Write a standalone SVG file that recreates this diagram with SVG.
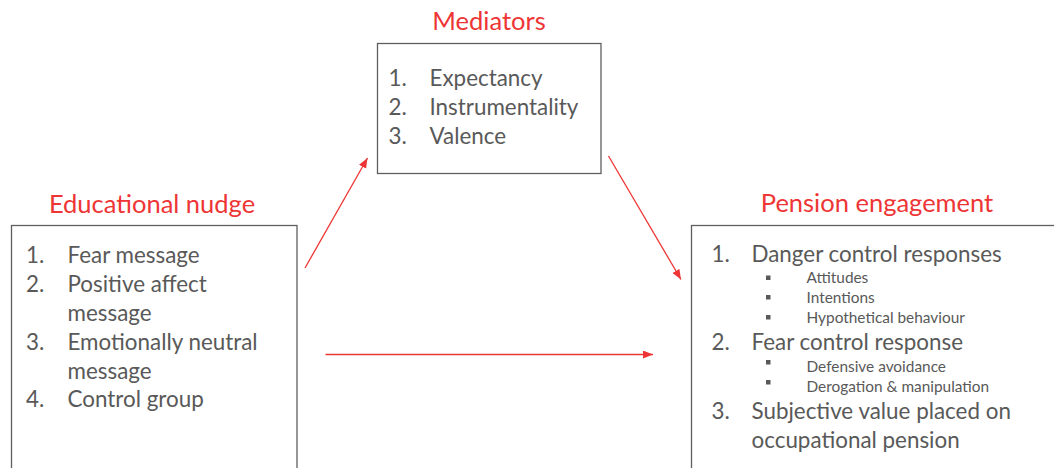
<svg xmlns="http://www.w3.org/2000/svg" width="1054" height="468" viewBox="0 0 1054 468">
  <style>
    .box { fill: #ffffff; stroke: #5f5f5f; stroke-width: 1.3; }
    .title { font-family: Lato, "Liberation Sans", sans-serif; font-size: 25.5px; fill: #ee3535; text-anchor: middle; }
    .item { font-family: Lato, "Liberation Sans", sans-serif; font-size: 22.4px; fill: #595959; }
    .sub { font-family: Lato, "Liberation Sans", sans-serif; font-size: 15.4px; fill: #595959; }
    .dot { fill: #595959; }
    .link { stroke: #ee3535; stroke-width: 1.3; fill: none; marker-end: url(#head); }
  </style>
  <defs>
    <marker id="head" markerUnits="userSpaceOnUse" markerWidth="11" markerHeight="9" refX="10" refY="4" orient="auto">
      <path d="M0,0 L10,4 L0,8 z" fill="#ee3535"/>
    </marker>
  </defs>
  <rect width="1054" height="468" fill="#ffffff"/>

  <!-- Educational nudge -->
  <g id="node-nudge">
    <text class="title" x="152" y="212.5">Educational nudge</text>
    <rect class="box" x="11.5" y="225.5" width="285.5" height="260"/>
    <text class="item" x="26" y="263">1.</text>
    <text class="item" x="67.5" y="263">Fear message</text>
    <text class="item" x="26" y="292">2.</text>
    <text class="item" x="67.5" y="292">Positive affect</text>
    <text class="item" x="67.5" y="321">message</text>
    <text class="item" x="26" y="350">3.</text>
    <text class="item" x="67.5" y="350">Emotionally neutral</text>
    <text class="item" x="67.5" y="378.5">message</text>
    <text class="item" x="26" y="407">4.</text>
    <text class="item" x="67.5" y="407">Control group</text>
  </g>

  <!-- Mediators -->
  <g id="node-mediators">
    <text class="title" x="489" y="30">Mediators</text>
    <rect class="box" x="377.5" y="43.5" width="223.5" height="130"/>
    <text class="item" x="388.5" y="85.5">1.</text>
    <text class="item" x="429.5" y="85.5">Expectancy</text>
    <text class="item" x="388.5" y="114.5">2.</text>
    <text class="item" x="429.5" y="114.5">Instrumentality</text>
    <text class="item" x="388.5" y="143.5">3.</text>
    <text class="item" x="429.5" y="143.5">Valence</text>
  </g>

  <!-- Pension engagement -->
  <g id="node-engagement">
    <text class="title" x="877" y="211.5">Pension engagement</text>
    <rect class="box" x="691.5" y="225.5" width="380" height="260"/>
    <text class="item" x="711.5" y="261.5">1.</text>
    <text class="item" x="751.5" y="261.5">Danger control responses</text>
    <rect class="dot" x="766" y="275.5" width="4.5" height="4.5"/>
    <text class="sub" x="806.5" y="282.7">Attitudes</text>
    <rect class="dot" x="766" y="295" width="4.5" height="4.5"/>
    <text class="sub" x="806.5" y="302.7">Intentions</text>
    <rect class="dot" x="766" y="315" width="4.5" height="4.5"/>
    <text class="sub" x="806.5" y="323.3">Hypothetical behaviour</text>
    <text class="item" x="711.5" y="350">2.</text>
    <text class="item" x="751.5" y="350">Fear control response</text>
    <rect class="dot" x="766" y="360" width="4.5" height="4.5"/>
    <text class="sub" x="806.5" y="371.7">Defensive avoidance</text>
    <rect class="dot" x="766" y="380" width="4.5" height="4.5"/>
    <text class="sub" x="806.5" y="392">Derogation &amp; manipulation</text>
    <text class="item" x="711.5" y="419.3">3.</text>
    <text class="item" x="751.5" y="419.3">Subjective value placed on</text>
    <text class="item" x="751.5" y="448.3">occupational pension</text>
  </g>

  <!-- Connectors -->
  <g id="connectors">
    <line class="link" x1="305" y1="268" x2="367.5" y2="158"/>
    <line class="link" x1="608.5" y1="156" x2="681" y2="279.5"/>
    <line class="link" x1="325.5" y1="354.5" x2="653" y2="354.5"/>
  </g>
</svg>
